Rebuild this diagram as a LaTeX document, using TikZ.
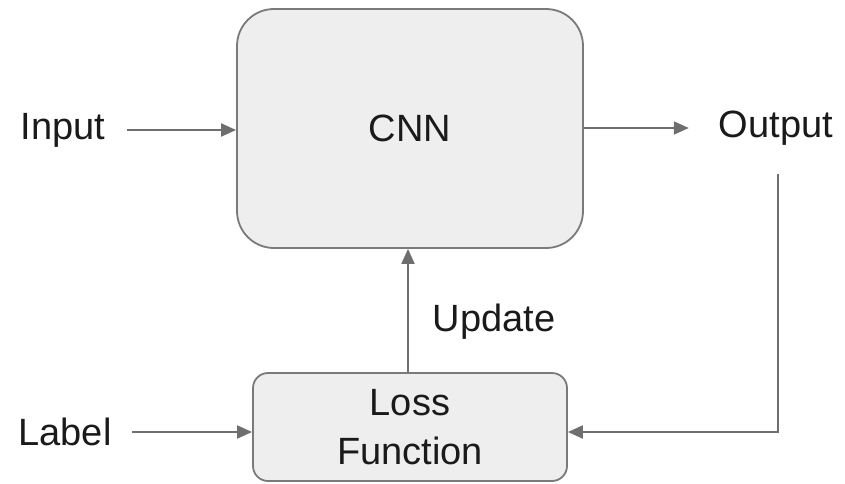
\documentclass[tikz,border=0pt]{standalone}
\usepackage{fontspec}
\setmainfont{Liberation Sans}
\usetikzlibrary{arrows.meta}
\definecolor{boxfill}{HTML}{EEEEEE}
\definecolor{boxline}{HTML}{7A7A7A}
\definecolor{wire}{HTML}{6E6E6E}
\definecolor{ink}{HTML}{1A1A1A}
\begin{document}
\begin{tikzpicture}[x=1pt,y=-1pt,
  block/.style={draw=boxline,fill=boxfill,line width=1.8pt,text=ink,
    font=\fontsize{38}{44}\selectfont,align=center,inner sep=0pt},
  caption/.style={text=ink,font=\fontsize{38}{44}\selectfont,inner sep=0pt},
  arr/.style={draw=wire,line width=2pt,-{Triangle[length=15pt,width=13pt]}}]
  \useasboundingbox (0,0) rectangle (845,483);

  % main blocks
  \node[block,rounded corners=37pt,minimum width=346pt,minimum height=239pt]
    (cnn) at (410,128.5) {CNN};
  \node[block,rounded corners=15pt,minimum width=314pt,minimum height=108pt]
    (loss) at (410,427) {Loss\\[5pt]Function};

  % plain text labels
  \node[caption] (in) at (63,130) {Input};
  \node[caption] (out) at (776,128) {Output};
  \node[caption] (lab) at (65,432) {Label};
  \node[caption] (upd) at (494,322) {Update};
  \coordinate (fb) at (778,174);

  % connectors
  \draw[arr,shorten <=22pt] (in.east) -- (cnn.west |- in.east);
  \draw[arr,shorten >=30pt] (cnn.east |- out.west) -- (out.west);
  \draw[arr,shorten <=20pt] (lab.east) -- (loss.west |- lab.east);
  \draw[arr] (fb) |- ([yshift=-5pt]loss.east);
  \draw[arr] (loss.north -| 408,0) -- (cnn.south -| 408,0);
\end{tikzpicture}
\end{document}
